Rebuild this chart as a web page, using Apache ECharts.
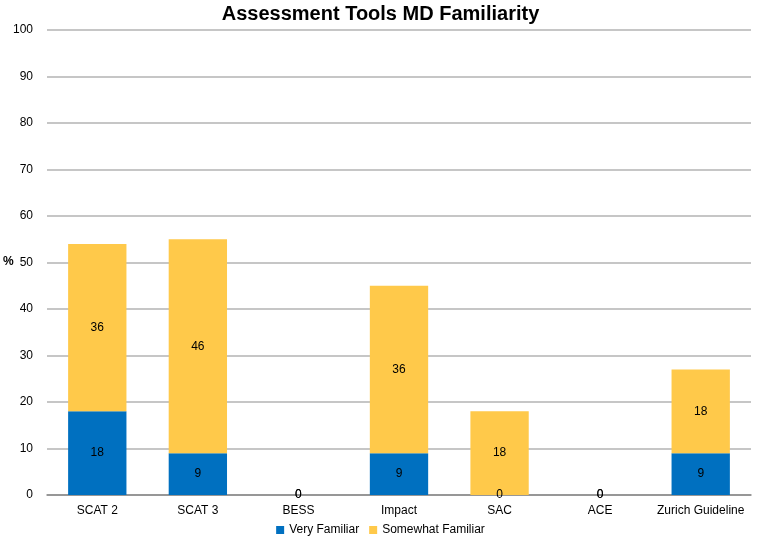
<!DOCTYPE html>
<html><head><meta charset="utf-8">
<script src="https://cdn.jsdelivr.net/npm/echarts@6/dist/echarts.min.js"></script>
<style>html,body{margin:0;padding:0;background:#fff}#c{width:761px;height:543px}</style>
</head><body><div id="c"></div>
<script>
const categories = ['SCAT 2','SCAT 3','BESS','Impact','SAC','ACE','Zurich Guideline'];
const veryFamiliar = [18, 9, 0, 9, 0, 0, 9];
const somewhatFamiliar = [36, 46, 0, 36, 18, 0, 18];
const yTicks = {min: 0, max: 100, interval: 10};
const yAxisName = '%';

const chart = echarts.init(document.getElementById('c'));
const font = 'Liberation Sans, Arial, sans-serif';
const lbl = {show: true, position: 'inside', color: '#000', fontSize: 12, fontFamily: font};
chart.setOption({
  animation: false,
  title: {text: 'Assessment Tools MD Familiarity', left: 'center', top: -1,
    textStyle: {fontSize: 20, fontWeight: 'bold', fontFamily: font, color: '#000'}},
  graphic: [{type: 'text', left: 3, top: 256,
    style: {text: yAxisName, fontSize: 12, fontWeight: 'bold', fill: '#000', fontFamily: font}}],
  legend: {bottom: 2, left: 'center', itemWidth: 8, itemHeight: 8, itemGap: 10,
    icon: 'rect', textStyle: {fontSize: 12, fontFamily: font, color: '#000'}},
  grid: {left: 47, right: 10, top: 30, bottom: 48, containLabel: false, outerBoundsMode: 'none'},
  xAxis: {type: 'category', data: categories,
    axisLine: {lineStyle: {color: '#888', width: 1.5}},
    axisTick: {show: false},
    axisLabel: {color: '#000', fontSize: 12, fontFamily: font, margin: 10, interval: 0}},
  yAxis: {type: 'value', min: yTicks.min, max: yTicks.max, interval: yTicks.interval,
    axisLine: {show: false}, axisTick: {show: false},
    axisLabel: {color: '#000', fontSize: 12, fontFamily: font, margin: 14},
    splitLine: {lineStyle: {color: '#b3b3b3', width: 1.5}}},
  series: [
    {name: 'Very Familiar', type: 'bar', stack: 'a', data: veryFamiliar, barWidth: '58%',
      itemStyle: {color: '#0070C0'}, label: lbl},
    {name: 'Somewhat Familiar', type: 'bar', stack: 'a', data: somewhatFamiliar, barWidth: '58%',
      itemStyle: {color: '#FFC94A'}, label: lbl}
  ]
});
</script></body></html>
